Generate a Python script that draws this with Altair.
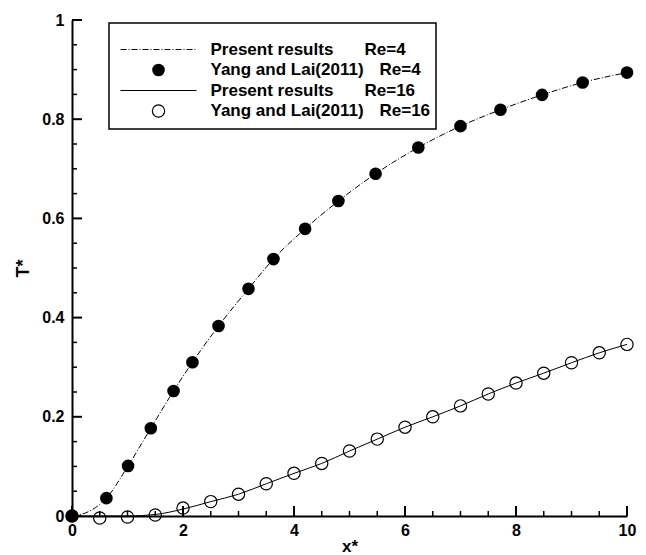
import altair as alt
import pandas as pd

# ---- data ----
re4_x = [0, 0.62, 1.01, 1.42, 1.83, 2.17, 2.64, 3.18, 3.63, 4.20, 4.80, 5.47, 6.24, 7.00, 7.72, 8.47, 9.20, 10.0]
re4_y = [0, 0.036, 0.101, 0.177, 0.252, 0.310, 0.383, 0.458, 0.518, 0.579, 0.635, 0.690, 0.743, 0.786, 0.819, 0.849, 0.874, 0.894]

re4_line_x = [0, 0.3, 0.62, 1.01, 1.42, 1.83, 2.17, 2.64, 3.18, 3.63, 4.20, 4.80, 5.47, 6.24, 7.00, 7.72, 8.47, 9.20, 10.0]
re4_line_y = [0, 0.009, 0.036, 0.101, 0.177, 0.252, 0.310, 0.383, 0.458, 0.518, 0.579, 0.635, 0.690, 0.743, 0.786, 0.819, 0.849, 0.874, 0.894]

re16_x = [0, 0.5, 1.0, 1.5, 2.0, 2.5, 3.0, 3.5, 4.0, 4.5, 5.0, 5.5, 6.0, 6.5, 7.0, 7.5, 8.0, 8.5, 9.0, 9.5, 10.0]
re16_y = [0, -0.004, -0.002, 0.002, 0.016, 0.029, 0.044, 0.065, 0.086, 0.106, 0.131, 0.155, 0.179, 0.200, 0.222, 0.246, 0.268, 0.288, 0.309, 0.329, 0.346]

re16_line_x = [0, 0.5, 1.0, 1.5, 2.0, 2.5, 3.0, 3.5, 4.0, 4.5, 5.0, 5.5, 6.0, 6.5, 7.0, 7.5, 8.0, 8.5, 9.0, 9.5, 10.0]
re16_line_y = [0, 0.0, 0.0, 0.003, 0.014, 0.029, 0.044, 0.065, 0.086, 0.106, 0.131, 0.155, 0.179, 0.200, 0.222, 0.246, 0.268, 0.288, 0.309, 0.329, 0.346]

x_major = [0, 2, 4, 6, 8, 10]
x_minor = [0.5, 1, 1.5, 2.5, 3, 3.5, 4.5, 5, 5.5, 6.5, 7, 7.5, 8.5, 9, 9.5]
y_major = [0, 0.2, 0.4, 0.6, 0.8, 1.0]
y_minor = [0.05, 0.1, 0.15, 0.25, 0.3, 0.35, 0.45, 0.5, 0.55, 0.65, 0.7, 0.75, 0.85, 0.9, 0.95]

legend_left = ["Present results", "Yang and Lai(2011)", "Present results", "Yang and Lai(2011)"]
legend_right = ["Re=4", "Re=4", "Re=16", "Re=16"]

FONT = "Liberation Sans"
W, H = 555, 496

xs = alt.Scale(domain=[0, 10], nice=False)
ys = alt.Scale(domain=[0, 1], nice=False)

x_axis = alt.Axis(values=x_major, format="d", ticks=False, domainWidth=2, domainColor="black",
                  labelFont=FONT, labelFontWeight="bold", labelFontSize=16, labelColor="black",
                  labelPadding=6, grid=False, title="x*", titleFont=FONT, titleFontWeight="bold",
                  titleFontSize=17, titleColor="black", titlePadding=0, labelFlush=False)
y_axis = alt.Axis(values=y_major, labelExpr="datum.value == 0 ? '0' : datum.value == 1 ? '1' : format(datum.value, '.1f')",
                  ticks=False, domainWidth=2, domainColor="black",
                  labelFont=FONT, labelFontWeight="bold", labelFontSize=16, labelColor="black",
                  labelPadding=8, grid=False, title="T*", titleFont=FONT, titleFontWeight="bold",
                  titleFontSize=18, titleColor="black", titlePadding=9, labelFlush=False)

df4 = pd.DataFrame({"x": re4_x, "y": re4_y})
df4l = pd.DataFrame({"x": re4_line_x, "y": re4_line_y})
df16 = pd.DataFrame({"x": re16_x, "y": re16_y})
df16l = pd.DataFrame({"x": re16_line_x, "y": re16_line_y})

line4 = alt.Chart(df4l).mark_line(color="black", strokeWidth=1, strokeDash=[6, 2, 1, 2],
                                  interpolate="monotone", clip=False).encode(
    x=alt.X("x:Q", scale=xs, axis=x_axis),
    y=alt.Y("y:Q", scale=ys, axis=y_axis),
)
line16 = alt.Chart(df16l).mark_line(color="black", strokeWidth=1, interpolate="monotone").encode(
    x=alt.X("x:Q", scale=xs), y=alt.Y("y:Q", scale=ys))

pts4 = alt.Chart(df4).mark_point(shape="circle", filled=True, size=160, color="black", opacity=1).encode(
    x=alt.X("x:Q", scale=xs), y=alt.Y("y:Q", scale=ys))
pts16 = alt.Chart(df16).mark_point(shape="circle", filled=False, size=150, color="black",
                                   strokeWidth=1.2, opacity=1).encode(
    x=alt.X("x:Q", scale=xs), y=alt.Y("y:Q", scale=ys))

# inward ticks
xmaj = alt.Chart(pd.DataFrame({"v": x_major})).mark_rule(color="black", strokeWidth=2).encode(
    x=alt.X("v:Q", scale=xs), y=alt.value(H - 10), y2=alt.value(H))
xmin = alt.Chart(pd.DataFrame({"v": x_minor})).mark_rule(color="black", strokeWidth=1.5).encode(
    x=alt.X("v:Q", scale=xs), y=alt.value(H - 5), y2=alt.value(H))
ymaj = alt.Chart(pd.DataFrame({"v": y_major})).mark_rule(color="black", strokeWidth=2).encode(
    y=alt.Y("v:Q", scale=ys), x=alt.value(0), x2=alt.value(10))
ymin = alt.Chart(pd.DataFrame({"v": y_minor})).mark_rule(color="black", strokeWidth=1.5).encode(
    y=alt.Y("v:Q", scale=ys), x=alt.value(0), x2=alt.value(5))

# manual legend
one = pd.DataFrame({"a": [0]})
box = alt.Chart(one).mark_rect(fill="white", stroke="black", strokeWidth=1.5).encode(
    x=alt.value(37), x2=alt.value(364), y=alt.value(3), y2=alt.value(109))

rows_y = [29.5, 50, 70.5, 91]
right_x = [292.5, 307.5, 292.5, 307.5]
legend_layers = [box]
for i in range(4):
    legend_layers.append(alt.Chart(one).mark_text(align="left", baseline="middle", font=FONT,
                                                  fontWeight="bold", fontSize=17, color="black").encode(
        x=alt.value(138.5), y=alt.value(rows_y[i]), text=alt.value(legend_left[i])))
    legend_layers.append(alt.Chart(one).mark_text(align="left", baseline="middle", font=FONT,
                                                  fontWeight="bold", fontSize=17, color="black").encode(
        x=alt.value(right_x[i]), y=alt.value(rows_y[i]), text=alt.value(legend_right[i])))

legend_layers.append(alt.Chart(one).mark_rule(color="black", strokeWidth=1, strokeDash=[6, 2, 1, 2]).encode(
    x=alt.value(48.5), x2=alt.value(124.5), y=alt.value(rows_y[0])))
legend_layers.append(alt.Chart(one).mark_point(shape="circle", filled=True, size=160, color="black", opacity=1).encode(
    x=alt.value(86.5), y=alt.value(rows_y[1])))
legend_layers.append(alt.Chart(one).mark_rule(color="black", strokeWidth=1).encode(
    x=alt.value(48.5), x2=alt.value(124.5), y=alt.value(rows_y[2])))
legend_layers.append(alt.Chart(one).mark_point(shape="circle", filled=False, size=150, color="black",
                                               strokeWidth=1.2, opacity=1).encode(
    x=alt.value(86.5), y=alt.value(rows_y[3])))

chart = alt.layer(line4, line16, xmaj, xmin, ymaj, ymin, pts4, pts16, *legend_layers).properties(
    width=W, height=H,
    autosize=alt.AutoSizeParams(type="none"),
    padding={"left": 72, "top": 20, "right": 19, "bottom": 39},
    background="white",
).configure_view(strokeWidth=0)

chart.save("out.html", embed_options={"renderer": "svg", "actions": False})
